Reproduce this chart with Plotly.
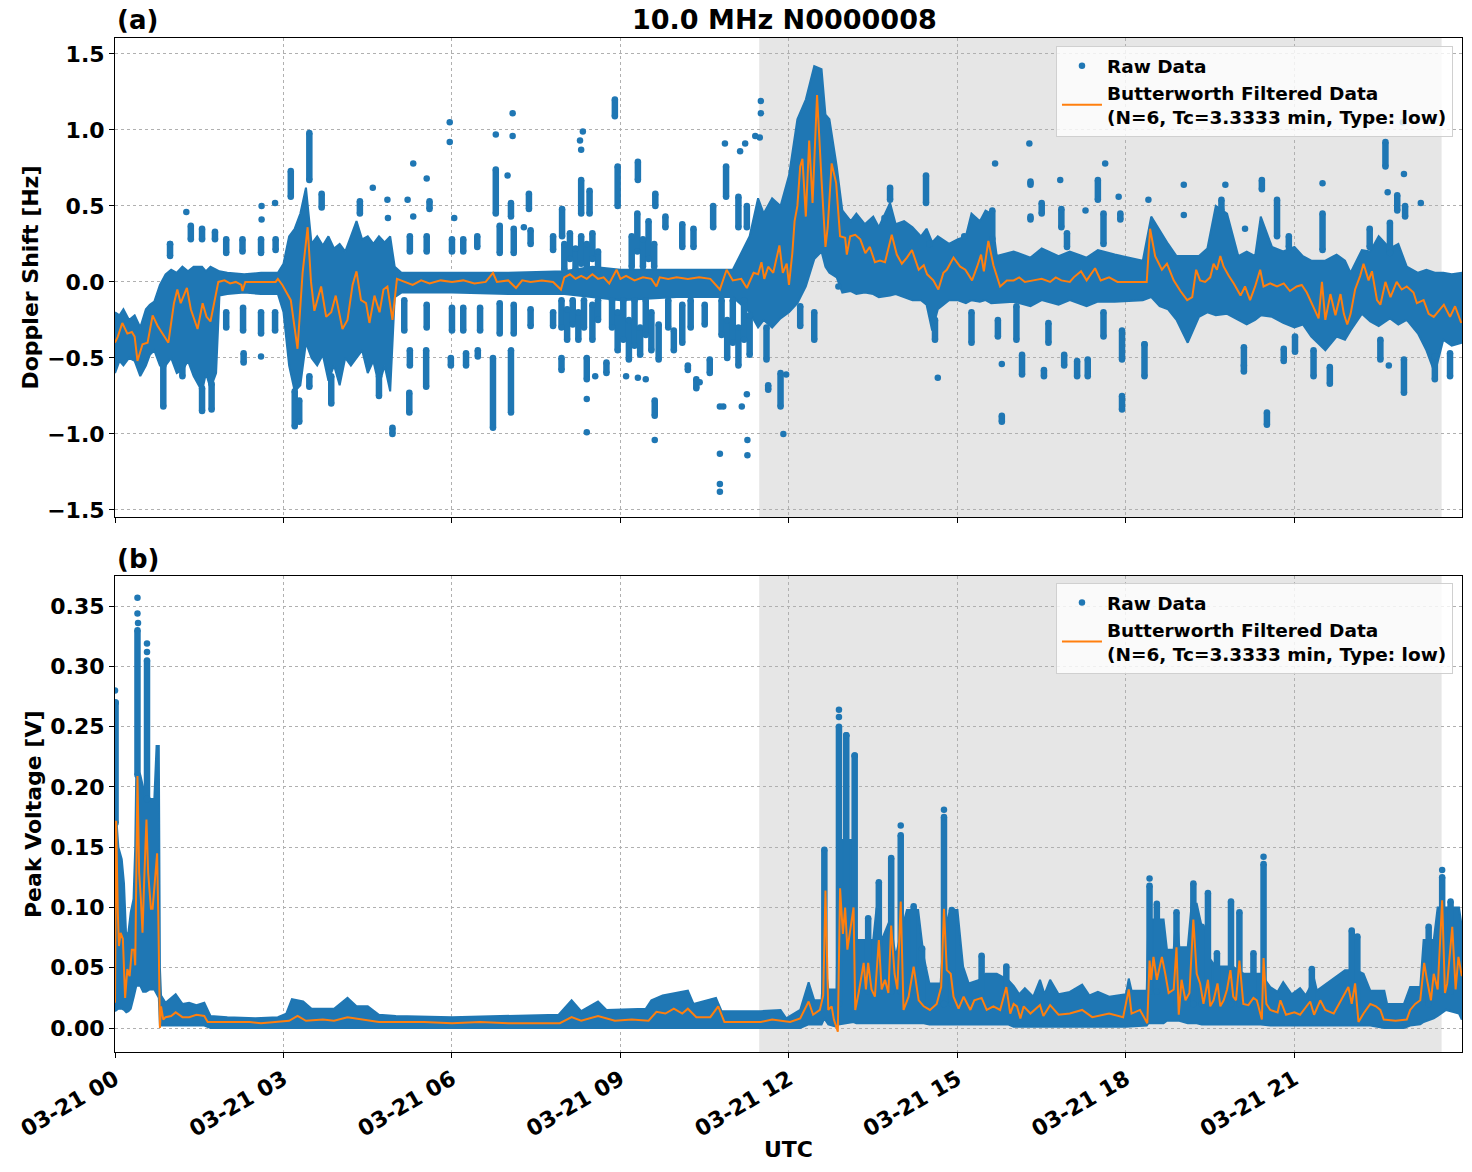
import numpy as np
import pandas as pd
import plotly.graph_objects as go

BASE_DAY = "2024-03-21"
C_RAW = "#1f77b4"
C_FILT = "#ff7f0e"

# ---------------- shaded interval (hours UTC) ----------------
shade_start = 11.47
shade_end = 23.62

# ================= (a) Doppler shift =================
# dense core of the raw points: time [h], lower edge, upper edge [Hz]
top_band_t = [0.00, 0.08, 0.15, 0.25, 0.35, 0.45, 0.55, 0.62, 0.70, 0.80,
              0.90, 1.00, 1.10, 1.20, 1.30, 1.40, 1.55, 1.62, 1.70, 1.80,
              1.86, 2.00, 2.30, 2.60, 2.90, 3.00, 3.10, 3.20, 3.30, 3.40,
              3.50, 3.60, 3.70, 3.80, 3.90, 4.00, 4.10, 4.20, 4.30, 4.40,
              4.50, 4.60, 4.70, 4.80, 4.90, 4.98, 5.10, 6.00, 7.00, 8.00,
              8.50, 9.00, 10.00, 11.00, 11.30, 11.45, 11.55, 11.70, 11.85, 12.00,
              12.15, 12.30, 12.45, 12.58, 12.65, 12.72, 12.85, 12.95, 13.10, 13.20,
              13.35, 13.50, 13.60, 13.80, 13.90, 14.05, 14.20, 14.35, 14.45, 14.55,
              14.65, 14.85, 15.00, 15.15, 15.25, 15.40, 15.50, 15.60, 15.70, 16.00,
              16.30, 16.50, 16.80, 17.00, 17.30, 17.50, 17.80, 18.30, 18.45, 18.60,
              18.75, 18.90, 19.10, 19.30, 19.45, 19.60, 19.80, 20.00, 20.15, 20.30,
              20.40, 20.60, 20.80, 21.00, 21.15, 21.30, 21.55, 21.75, 21.90, 22.00,
              22.20, 22.35, 22.50, 22.70, 22.85, 23.00, 23.20, 23.35, 23.50, 23.65,
              23.80, 23.98]
top_band_lo = [-0.60, -0.52, -0.55, -0.50, -0.52, -0.62, -0.55, -0.48, -0.45, -0.55,
               -0.55, -0.50, -0.60, -0.58, -0.52, -0.62, -0.72, -0.60, -0.70, -0.60,
               -0.09, -0.08, -0.07, -0.08, -0.08, -0.20, -0.55, -0.72, -0.68, -0.40,
               -0.50, -0.55, -0.48, -0.65, -0.55, -0.68, -0.50, -0.55, -0.50, -0.45,
               -0.60, -0.52, -0.68, -0.55, -0.72, -0.10, -0.07, -0.07, -0.08, -0.08,
               -0.10, -0.12, -0.10, -0.10, -0.20, -0.30, -0.25, -0.30, -0.24, -0.20,
               -0.14, -0.03, 0.15, 0.20, 0.10, 0.06, 0.03, -0.07, -0.06, -0.08,
               -0.07, -0.08, -0.10, -0.09, -0.08, -0.10, -0.12, -0.12, -0.15, -0.32,
               -0.18, -0.12, -0.12, -0.14, -0.12, -0.13, -0.12, -0.14, -0.14, -0.13,
               -0.16, -0.12, -0.15, -0.12, -0.16, -0.13, -0.13, -0.12, -0.10, -0.16,
               -0.18, -0.25, -0.40, -0.23, -0.20, -0.22, -0.21, -0.25, -0.28, -0.25,
               -0.22, -0.23, -0.27, -0.30, -0.28, -0.36, -0.45, -0.36, -0.38, -0.32,
               -0.21, -0.26, -0.29, -0.24, -0.28, -0.25, -0.34, -0.45, -0.60, -0.38,
               -0.42, -0.40]
top_band_hi = [-0.20, -0.22, -0.18, -0.25, -0.22, -0.30, -0.18, -0.15, -0.13, -0.02,
               0.05, 0.08, 0.06, 0.10, 0.07, 0.10, 0.10, 0.07, 0.10, 0.08,
               0.07, 0.06, 0.05, 0.06, 0.06, 0.12, 0.30, 0.35, 0.45, 0.62,
               0.25, 0.30, 0.24, 0.30, 0.22, 0.25, 0.20, 0.30, 0.40, 0.28,
               0.30, 0.25, 0.30, 0.26, 0.30, 0.10, 0.06, 0.06, 0.06, 0.07,
               0.10, 0.08, 0.08, 0.08, 0.30, 0.55, 0.45, 0.55, 0.50, 0.70,
               1.07, 1.20, 1.42, 1.40, 1.10, 1.07, 0.76, 0.47, 0.40, 0.45,
               0.38, 0.43, 0.36, 0.52, 0.38, 0.40, 0.36, 0.30, 0.35, 0.26,
               0.30, 0.25, 0.28, 0.30, 0.45, 0.40, 0.47, 0.45, 0.17, 0.20,
               0.16, 0.22, 0.17, 0.20, 0.16, 0.21, 0.18, 0.14, 0.43, 0.34,
               0.25, 0.17, 0.17, 0.17, 0.22, 0.50, 0.45, 0.17, 0.20, 0.17,
               0.43, 0.23, 0.20, 0.23, 0.17, 0.14, 0.14, 0.18, 0.14, 0.06,
               0.21, 0.20, 0.30, 0.22, 0.25, 0.10, 0.06, 0.08, 0.06, 0.06,
               0.05, 0.06]

# stacks of raw points above the core: time [h], lowest, highest [Hz]
top_up_t = [0.98, 1.35, 1.55, 1.78, 1.98, 2.27, 2.60, 2.86, 3.13, 3.46,
            3.68, 4.36, 5.25, 5.60, 5.55, 6.00, 6.20, 6.45, 6.78, 6.85,
            7.05, 7.10, 7.37, 7.40, 7.80, 7.96, 8.00, 8.10, 8.20, 8.30,
            8.40, 8.50, 8.60, 8.30, 8.45, 8.95, 8.90, 9.31, 9.20, 9.30,
            9.40, 9.50, 9.60, 9.62, 9.80, 10.10, 10.30, 10.65, 10.88, 11.10,
            11.25, 13.80, 14.44, 15.62, 16.30, 16.50, 16.85, 16.95, 17.50, 17.60,
            17.90, 19.70, 20.42, 20.69, 20.90, 21.50, 22.34, 22.62, 22.83, 22.97,
            22.70, 16.30]
top_up_lo = [0.17, 0.28, 0.28, 0.28, 0.19, 0.20, 0.19, 0.21, 0.56, 0.67,
             0.49, 0.45, 0.20, 0.48, 0.20, 0.20, 0.20, 0.23, 0.45, 0.19,
             0.43, 0.19, 0.48, 0.25, 0.21, 0.30, 0.08, 0.15, 0.08, 0.12,
             0.08, 0.15, 0.08, 0.45, 0.45, 0.50, 1.09, 0.67, 0.10, 0.20,
             0.10, 0.15, 0.10, 0.50, 0.36, 0.23, 0.23, 0.36, 0.56, 0.36,
             0.36, 0.54, 0.52, 0.28, 0.41, 0.45, 0.36, 0.23, 0.54, 0.25,
             0.41, 0.47, 0.61, 0.30, 0.23, 0.21, 0.23, 0.76, 0.47, 0.43,
             0.19, 0.64]
top_up_hi = [0.25, 0.37, 0.35, 0.33, 0.28, 0.28, 0.28, 0.28, 0.73, 0.98,
             0.58, 0.53, 0.30, 0.53, 0.30, 0.28, 0.28, 0.30, 0.74, 0.37,
             0.52, 0.35, 0.58, 0.34, 0.30, 0.48, 0.25, 0.32, 0.22, 0.30,
             0.25, 0.32, 0.20, 0.67, 0.60, 0.76, 1.20, 0.79, 0.30, 0.45,
             0.28, 0.40, 0.25, 0.58, 0.43, 0.38, 0.35, 0.50, 0.76, 0.56,
             0.50, 0.62, 0.70, 0.47, 0.43, 0.52, 0.48, 0.32, 0.67, 0.45,
             0.45, 0.54, 0.67, 0.54, 0.30, 0.45, 0.35, 0.92, 0.57, 0.50,
             0.39, 0.66]

# stacks of raw points below the core: time [h], lowest, highest [Hz]
top_dn_t = [0.86, 1.20, 1.55, 1.72, 1.98, 2.28, 2.29, 2.60, 2.85, 3.20,
            3.28, 3.46, 3.85, 4.70, 4.94, 5.15, 5.25, 5.24, 5.54, 5.55,
            5.98, 6.00, 6.25, 6.20, 6.46, 6.50, 6.73, 6.85, 7.05, 7.10,
            7.40, 7.80, 7.95, 8.05, 8.15, 8.25, 8.35, 8.50, 8.60, 7.95,
            8.40, 8.75, 8.85, 8.95, 9.05, 9.15, 9.25, 9.35, 9.45, 9.55,
            9.68, 9.61, 9.85, 9.95, 10.10, 10.25, 10.20, 10.35, 10.50, 10.59,
            10.80, 10.90, 11.00, 11.10, 11.20, 11.30, 11.60, 11.63, 11.85, 12.20,
            12.45, 14.60, 15.25, 15.72, 15.79, 16.05, 16.15, 16.54, 16.62, 16.90,
            17.13, 17.32, 17.60, 17.93, 17.93, 18.33, 20.10, 20.51, 20.81, 21.01,
            21.34, 21.63, 22.53, 22.95, 23.50, 23.77]
top_dn_lo = [-0.82, -0.62, -0.85, -0.84, -0.30, -0.32, -0.53, -0.34, -0.32, -0.95,
             -0.92, -0.69, -0.80, -0.75, -1.00, -0.32, -0.55, -0.86, -0.69, -0.30,
             -0.55, -0.32, -0.55, -0.32, -0.49, -0.32, -0.96, -0.34, -0.86, -0.34,
             -0.29, -0.29, -0.30, -0.38, -0.28, -0.38, -0.30, -0.38, -0.25, -0.58,
             -0.64, -0.60, -0.30, -0.45, -0.38, -0.51, -0.42, -0.48, -0.35, -0.45,
             -0.51, -0.88, -0.30, -0.45, -0.40, -0.30, -0.58, -0.70, -0.28, -0.60,
             -0.35, -0.50, -0.40, -0.55, -0.38, -0.48, -0.51, -0.71, -0.82, -0.29,
             -0.38, -0.38, -0.40, -0.36, -0.92, -0.38, -0.61, -0.62, -0.40, -0.55,
             -0.62, -0.62, -0.36, -0.51, -0.84, -0.62, -0.59, -0.94, -0.52, -0.46,
             -0.62, -0.67, -0.51, -0.73, -0.64, -0.62]
top_dn_hi = [-0.55, -0.55, -0.70, -0.67, -0.20, -0.17, -0.47, -0.20, -0.20, -0.72,
             -0.78, -0.62, -0.62, -0.62, -0.96, -0.12, -0.45, -0.73, -0.45, -0.15,
             -0.50, -0.17, -0.47, -0.17, -0.45, -0.17, -0.50, -0.14, -0.45, -0.15,
             -0.18, -0.20, -0.12, -0.18, -0.12, -0.20, -0.12, -0.15, -0.12, -0.50,
             -0.50, -0.53, -0.12, -0.20, -0.12, -0.25, -0.12, -0.30, -0.12, -0.20,
             -0.28, -0.78, -0.12, -0.32, -0.15, -0.12, -0.55, -0.64, -0.15, -0.51,
             -0.12, -0.25, -0.12, -0.30, -0.12, -0.22, -0.30, -0.68, -0.60, -0.16,
             -0.20, -0.25, -0.20, -0.25, -0.88, -0.16, -0.48, -0.58, -0.27, -0.48,
             -0.52, -0.51, -0.20, -0.32, -0.75, -0.41, -0.43, -0.86, -0.44, -0.36,
             -0.45, -0.56, -0.38, -0.51, -0.49, -0.47]

# isolated raw points: time [h], value [Hz]
top_pt_t = [1.27, 0.98, 2.61, 2.61, 2.85, 2.60, 4.59, 4.85, 4.86, 5.21, 5.31, 5.31, 5.55, 5.96, 5.96, 6.04,
            6.78, 6.99, 7.08, 7.08, 7.28, 8.33, 8.28, 8.30, 10.86, 11.13, 11.22, 11.40, 11.50, 11.50, 11.48,
            8.40, 8.40, 8.55, 9.10, 9.31, 9.45, 9.61, 10.41, 10.77, 10.83, 10.77, 10.77, 10.77, 11.16, 11.25,
            11.26, 11.26, 11.90, 11.95, 12.88, 13.70, 14.50, 15.12, 15.67, 15.79, 16.28, 16.83, 17.28, 17.63,
            17.87, 18.40, 19.03, 19.03, 19.77, 20.12, 21.50, 22.66, 22.95, 23.25, 22.93, 20.10, 22.68, 18.33,
            14.65]
top_pt_v = [0.46, 0.25, 0.50, 0.41, 0.52, -0.49, 0.62, 0.54, 0.42, 0.54, 0.78, 0.43, 0.68, 1.05, 0.92, 0.42,
            0.97, 0.70, 1.11, 0.96, 0.36, 0.99, 0.93, 0.87, 0.91, 0.86, 0.91, 0.96, 1.19, 1.11, 0.95,
            -0.77, -0.99, -0.62, -0.62, -0.63, -0.64, -1.04, -0.66, -0.82, -0.82, -1.13, -1.33, -1.38, -0.82,
            -0.74, -1.04, -1.14, -1.00, -0.61, -0.03, 0.42, 0.25, 0.30, 0.78, -0.54, 0.91, 0.67, 0.47, 0.78,
            0.56, 0.54, 0.64, 0.44, 0.64, 0.35, 0.65, 0.59, 0.71, 0.52, 1.05, -0.55, -0.55, -0.41,
            -0.63]

# Butterworth filtered Doppler shift: time [h], value [Hz]
top_f_t = [0.00, 0.05, 0.13, 0.22, 0.30, 0.35, 0.40, 0.49, 0.58, 0.67, 0.76, 0.87, 0.95, 1.05, 1.11, 1.17,
           1.28, 1.35, 1.47, 1.56, 1.63, 1.70, 1.79, 1.84, 1.95, 2.05, 2.15, 2.25, 2.27, 2.32, 2.50, 2.70,
           2.86, 2.90, 2.98, 3.13, 3.25, 3.34, 3.43, 3.49, 3.55, 3.67, 3.76, 3.85, 3.93, 4.05, 4.14, 4.23,
           4.30, 4.38, 4.47, 4.53, 4.62, 4.71, 4.78, 4.85, 4.94, 5.02, 5.15, 5.30, 5.45, 5.60, 5.80, 6.00,
           6.20, 6.40, 6.60, 6.73, 6.80, 7.00, 7.14, 7.25, 7.40, 7.60, 7.80, 7.94, 8.00, 8.10, 8.20, 8.30,
           8.40, 8.50, 8.60, 8.70, 8.80, 8.93, 9.00, 9.10, 9.25, 9.40, 9.55, 9.64, 9.70, 9.85, 10.00, 10.20,
           10.40, 10.60, 10.77, 10.89, 11.00, 11.15, 11.25, 11.37, 11.45, 11.51, 11.56, 11.63, 11.72, 11.83,
           11.89, 11.96, 12.00, 12.06, 12.10, 12.15, 12.20, 12.24, 12.30, 12.36, 12.42, 12.50, 12.58, 12.65,
           12.69, 12.76, 12.84, 12.91, 13.00, 13.03, 13.09, 13.18, 13.27, 13.36, 13.44, 13.53, 13.62, 13.71,
           13.83, 13.92, 14.01, 14.10, 14.19, 14.31, 14.40, 14.46, 14.57, 14.66, 14.75, 14.81, 14.93, 15.05,
           15.14, 15.26, 15.35, 15.42, 15.47, 15.55, 15.64, 15.76, 15.88, 16.00, 16.10, 16.20, 16.35, 16.50,
           16.65, 16.75, 16.85, 17.00, 17.07, 17.20, 17.30, 17.45, 17.55, 17.70, 17.85, 18.00, 18.20, 18.37,
           18.43, 18.52, 18.64, 18.73, 18.85, 18.97, 19.09, 19.18, 19.25, 19.32, 19.41, 19.50, 19.56, 19.62,
           19.68, 19.74, 19.83, 19.92, 20.04, 20.12, 20.21, 20.30, 20.39, 20.45, 20.57, 20.69, 20.81, 20.92,
           21.04, 21.13, 21.22, 21.34, 21.43, 21.49, 21.55, 21.64, 21.73, 21.82, 21.88, 21.94, 22.00, 22.08,
           22.17, 22.23, 22.32, 22.38, 22.47, 22.53, 22.62, 22.71, 22.82, 22.91, 23.00, 23.12, 23.18, 23.30,
           23.39, 23.48, 23.60, 23.66, 23.77, 23.86, 23.97]
top_f_v = [-0.40, -0.36, -0.27, -0.34, -0.33, -0.36, -0.52, -0.41, -0.40, -0.22, -0.29, -0.35, -0.40, -0.14,
           -0.05, -0.14, -0.04, -0.18, -0.31, -0.14, -0.23, -0.26, -0.09, 0.00, 0.01, -0.01, 0.00, -0.02,
           -0.06, 0.00, 0.00, 0.00, 0.00, 0.02, -0.02, -0.12, -0.44, 0.06, 0.36, 0.00, -0.19, -0.03, -0.23,
           -0.20, -0.09, -0.31, -0.25, -0.02, 0.07, -0.12, -0.14, -0.27, -0.09, -0.20, -0.05, -0.03, -0.25,
           0.02, 0.00, -0.02, 0.01, -0.01, 0.01, 0.00, 0.01, -0.01, 0.00, 0.06, 0.00, 0.01, -0.04, 0.01,
           0.00, 0.01, 0.00, -0.05, 0.03, 0.05, 0.02, 0.04, 0.02, 0.05, 0.02, 0.03, -0.01, 0.08, 0.02, 0.04,
           0.01, 0.03, 0.02, -0.03, 0.03, 0.02, 0.03, 0.02, 0.03, 0.02, -0.05, 0.08, 0.01, 0.02, -0.04, 0.06,
           0.05, 0.13, 0.02, 0.10, 0.06, 0.24, 0.06, 0.12, -0.02, 0.19, 0.40, 0.50, 0.76, 0.81, 0.43, 0.93,
           0.52, 1.23, 0.67, 0.23, 0.36, 0.78, 0.65, 0.30, 0.29, 0.18, 0.30, 0.31, 0.28, 0.19, 0.23, 0.13,
           0.14, 0.13, 0.31, 0.18, 0.12, 0.16, 0.21, 0.08, 0.11, 0.05, 0.01, -0.05, 0.06, 0.08, 0.16, 0.10,
           0.08, 0.01, 0.10, 0.18, 0.07, 0.27, 0.11, -0.03, 0.01, 0.01, 0.03, 0.00, 0.01, 0.02, 0.00, 0.03,
           0.01, 0.00, 0.03, 0.07, 0.01, 0.09, 0.01, 0.03, 0.00, 0.00, 0.00, 0.00, 0.35, 0.17, 0.08, 0.12,
           0.01, -0.06, -0.12, -0.10, 0.08, 0.01, 0.00, 0.03, 0.12, 0.08, 0.17, 0.10, 0.04, -0.01, -0.09,
           -0.03, -0.12, -0.03, 0.08, -0.03, -0.01, -0.03, -0.01, -0.06, -0.03, -0.02, -0.07, -0.17, -0.24,
           0.00, -0.25, -0.08, -0.22, -0.08, -0.21, -0.28, -0.21, -0.05, 0.04, 0.12, 0.01, 0.07, -0.12,
           -0.15, 0.00, -0.10, 0.00, -0.05, -0.03, -0.07, -0.14, -0.12, -0.21, -0.23, -0.18, -0.15, -0.23,
           -0.16, -0.27]

# ================= (b) Peak voltage =================
bot_band_t = [0.00, 0.03, 0.06, 0.12, 0.16, 0.20, 0.24, 0.28, 0.33, 0.36,
              0.38, 0.45, 0.50, 0.55, 0.62, 0.70, 0.74, 0.78, 0.80, 0.82,
              0.90, 1.08, 1.20, 1.32, 1.45, 1.59, 1.70, 2.00, 2.50, 2.90,
              3.05, 3.15, 3.35, 3.50, 3.90, 4.14, 4.30, 4.50, 4.70, 5.00,
              6.00, 7.00, 7.90, 8.13, 8.30, 8.60, 8.75, 9.45, 9.55, 9.75,
              10.20, 10.30, 10.70, 10.80, 11.50, 11.85, 11.95, 12.20, 12.35, 12.45,
              12.58, 12.63, 12.70, 12.85, 12.88, 13.15, 13.20, 13.50, 13.56, 13.65,
              13.80, 13.90, 14.00, 14.10, 14.30, 14.40, 14.50, 14.70, 14.76, 14.87,
              15.00, 15.10, 15.20, 15.40, 15.50, 15.70, 15.90, 16.00, 16.10, 16.20,
              16.35, 16.47, 16.55, 16.65, 16.80, 17.00, 17.22, 17.35, 17.50, 17.70,
              18.00, 18.05, 18.10, 18.37, 18.40, 18.67, 18.73, 18.85, 18.90, 18.95,
              19.10, 19.17, 19.26, 19.35, 19.45, 19.60, 19.90, 20.10, 20.40, 20.57,
              20.70, 20.80, 20.95, 21.10, 21.20, 21.28, 21.31, 21.40, 21.90, 22.10,
              22.23, 22.35, 22.60, 22.65, 22.95, 23.06, 23.24, 23.30, 23.48, 23.55,
              23.70, 23.93, 23.98]
bot_band_lo = [0.014, 0.015, 0.016, 0.016, 0.015, 0.013, 0.014, 0.016, 0.025, 0.030,
               0.035, 0.035, 0.030, 0.030, 0.032, 0.032, 0.028, 0.025, 0.002, 0.002,
               0.002, 0.002, 0.002, 0.002, 0.002, 0.002, 0.000, 0.000, 0.000, 0.000,
               0.000, 0.000, 0.000, 0.000, 0.000, 0.000, 0.000, 0.000, 0.000, 0.000,
               0.000, 0.000, 0.000, 0.000, 0.000, 0.000, 0.000, 0.000, 0.000, 0.000,
               0.000, 0.000, 0.000, 0.000, 0.000, 0.000, 0.000, 0.000, 0.003, 0.003,
               0.003, 0.008, 0.003, 0.001, 0.003, 0.005, 0.004, 0.004, 0.004, 0.004,
               0.004, 0.004, 0.004, 0.004, 0.004, 0.004, 0.003, 0.003, 0.003, 0.003,
               0.003, 0.003, 0.003, 0.003, 0.003, 0.003, 0.003, 0.001, 0.001, 0.001,
               0.001, 0.001, 0.001, 0.001, 0.001, 0.001, 0.001, 0.001, 0.001, 0.001,
               0.001, 0.001, 0.001, 0.002, 0.004, 0.004, 0.006, 0.006, 0.006, 0.006,
               0.004, 0.004, 0.004, 0.003, 0.003, 0.003, 0.003, 0.003, 0.003, 0.002,
               0.002, 0.002, 0.002, 0.002, 0.002, 0.002, 0.002, 0.002, 0.002, 0.002,
               0.002, 0.002, 0.000, 0.000, 0.000, 0.002, 0.003, 0.005, 0.008, 0.010,
               0.015, 0.012, 0.007]
bot_band_hi = [0.206, 0.170, 0.150, 0.140, 0.120, 0.075, 0.080, 0.096, 0.107, 0.150,
               0.217, 0.210, 0.200, 0.200, 0.190, 0.190, 0.234, 0.234, 0.050, 0.027,
               0.021, 0.028, 0.020, 0.021, 0.019, 0.021, 0.010, 0.009, 0.008, 0.009,
               0.012, 0.024, 0.022, 0.016, 0.016, 0.025, 0.018, 0.018, 0.011, 0.010,
               0.009, 0.010, 0.011, 0.023, 0.014, 0.022, 0.015, 0.016, 0.023, 0.027,
               0.031, 0.020, 0.025, 0.014, 0.014, 0.015, 0.008, 0.015, 0.038, 0.023,
               0.023, 0.060, 0.032, 0.032, 0.156, 0.156, 0.073, 0.073, 0.100, 0.073,
               0.090, 0.059, 0.080, 0.098, 0.098, 0.059, 0.037, 0.037, 0.080, 0.098,
               0.098, 0.051, 0.037, 0.040, 0.045, 0.045, 0.040, 0.035, 0.028, 0.033,
               0.026, 0.040, 0.028, 0.040, 0.028, 0.030, 0.036, 0.027, 0.030, 0.026,
               0.028, 0.041, 0.031, 0.031, 0.090, 0.090, 0.065, 0.065, 0.096, 0.067,
               0.067, 0.103, 0.103, 0.084, 0.060, 0.051, 0.051, 0.045, 0.045, 0.034,
               0.030, 0.038, 0.028, 0.033, 0.027, 0.034, 0.049, 0.031, 0.048, 0.048,
               0.045, 0.031, 0.031, 0.020, 0.020, 0.034, 0.034, 0.073, 0.073, 0.100,
               0.100, 0.100, 0.084]

bot_cl_t = [0.01, 0.40, 0.57, 12.63, 12.89, 13.02, 13.17, 13.41, 13.60, 13.82,
            13.99, 14.22, 14.37, 14.76, 14.90, 15.43, 15.87, 18.42, 18.55, 18.90,
            19.20, 19.35, 19.46, 19.62, 19.87, 20.02, 20.27, 20.45, 21.31, 22.02,
            22.12, 23.39, 23.63, 23.78]
bot_cl_lo = [0.17, 0.21, 0.19, 0.03, 0.02, 0.10, 0.03, 0.03, 0.03, 0.03,
             0.03, 0.03, 0.02, 0.02, 0.02, 0.02, 0.02, 0.03, 0.03, 0.02,
             0.02, 0.02, 0.02, 0.02, 0.02, 0.02, 0.02, 0.02, 0.02, 0.02,
             0.02, 0.02, 0.03, 0.03]
bot_cl_hi = [0.270, 0.330, 0.305, 0.148, 0.250, 0.243, 0.226, 0.091, 0.121, 0.141,
             0.160, 0.101, 0.066, 0.175, 0.098, 0.060, 0.051, 0.118, 0.103, 0.096,
             0.120, 0.084, 0.112, 0.062, 0.105, 0.096, 0.062, 0.136, 0.049, 0.081,
             0.076, 0.084, 0.125, 0.105]

bot_pt_t = [0.40, 0.40, 0.41, 0.57, 0.57, 0.00, 0.01, 12.89, 12.89, 13.02, 13.17, 14.76, 13.99, 20.45,
            23.63, 18.42]
bot_pt_v = [0.357, 0.344, 0.336, 0.319, 0.312, 0.280, 0.270, 0.264, 0.258, 0.243, 0.226, 0.181, 0.168,
            0.142, 0.131, 0.124]

bot_f_t = [0.00, 0.02, 0.05, 0.07, 0.10, 0.14, 0.18, 0.22, 0.26, 0.30, 0.34, 0.36, 0.40, 0.43, 0.46, 0.49,
           0.52, 0.56, 0.59, 0.64, 0.67, 0.71, 0.75, 0.77, 0.80, 0.82, 0.86, 0.90, 1.00, 1.08, 1.20, 1.32,
           1.45, 1.59, 1.65, 2.00, 2.40, 2.60, 2.90, 3.10, 3.25, 3.40, 3.70, 3.90, 4.14, 4.40, 4.70, 5.00,
           5.50, 6.00, 6.50, 7.00, 7.50, 7.92, 8.13, 8.30, 8.60, 8.90, 9.20, 9.50, 9.64, 9.80, 9.95, 10.10,
           10.20, 10.35, 10.60, 10.74, 10.85, 11.20, 11.50, 11.70, 12.02, 12.20, 12.35, 12.43, 12.55, 12.61,
           12.65, 12.70, 12.76, 12.80, 12.87, 12.91, 12.96, 13.00, 13.04, 13.09, 13.15, 13.18, 13.24, 13.33,
           13.37, 13.41, 13.47, 13.53, 13.60, 13.65, 13.71, 13.77, 13.82, 13.88, 13.93, 13.99, 14.04, 14.13,
           14.22, 14.31, 14.40, 14.51, 14.63, 14.71, 14.76, 14.81, 14.88, 14.93, 15.02, 15.11, 15.23, 15.30,
           15.43, 15.52, 15.64, 15.76, 15.87, 15.94, 16.00, 16.06, 16.12, 16.18, 16.30, 16.47, 16.53, 16.65,
           16.80, 17.00, 17.22, 17.40, 17.70, 17.95, 18.05, 18.10, 18.25, 18.38, 18.42, 18.45, 18.49, 18.55,
           18.64, 18.70, 18.76, 18.85, 18.90, 18.94, 18.99, 19.06, 19.13, 19.20, 19.26, 19.32, 19.38, 19.46,
           19.50, 19.56, 19.63, 19.68, 19.74, 19.80, 19.86, 19.91, 19.96, 20.02, 20.09, 20.18, 20.27, 20.33,
           20.42, 20.45, 20.50, 20.57, 20.70, 20.75, 20.85, 21.00, 21.10, 21.28, 21.35, 21.46, 21.55, 21.70,
           21.90, 21.96, 22.02, 22.08, 22.14, 22.23, 22.35, 22.45, 22.53, 22.59, 22.80, 23.00, 23.06, 23.15,
           23.24, 23.31, 23.36, 23.43, 23.48, 23.55, 23.63, 23.68, 23.72, 23.81, 23.87, 23.92, 23.98]
bot_f_v = [0.021, 0.172, 0.096, 0.068, 0.079, 0.074, 0.025, 0.049, 0.043, 0.065, 0.065, 0.052, 0.209, 0.129,
           0.107, 0.079, 0.123, 0.173, 0.129, 0.099, 0.099, 0.123, 0.145, 0.096, 0.000, 0.018, 0.007, 0.009,
           0.010, 0.013, 0.009, 0.009, 0.011, 0.010, 0.005, 0.005, 0.005, 0.004, 0.005, 0.006, 0.010, 0.006,
           0.007, 0.006, 0.009, 0.007, 0.005, 0.005, 0.005, 0.004, 0.005, 0.004, 0.004, 0.004, 0.009, 0.006,
           0.010, 0.006, 0.007, 0.006, 0.0135, 0.012, 0.016, 0.012, 0.016, 0.009, 0.009, 0.018, 0.005, 0.005,
           0.005, 0.007, 0.005, 0.008, 0.022, 0.011, 0.015, 0.027, 0.114, 0.015, 0.018, 0.007, -0.003, 0.116,
           0.078, 0.100, 0.065, 0.081, 0.100, 0.015, 0.029, 0.054, 0.032, 0.054, 0.032, 0.026, 0.073, 0.032,
           0.040, 0.029, 0.085, 0.045, 0.032, 0.105, 0.015, 0.026, 0.051, 0.023, 0.018, 0.015, 0.020, 0.034,
           0.099, 0.048, 0.045, 0.026, 0.016, 0.026, 0.015, 0.023, 0.025, 0.015, 0.018, 0.015, 0.034, 0.012,
           0.020, 0.018, 0.008, 0.018, 0.012, 0.019, 0.010, 0.019, 0.011, 0.012, 0.015, 0.009, 0.012, 0.009,
           0.032, 0.012, 0.015, 0.004, 0.056, 0.040, 0.059, 0.040, 0.059, 0.045, 0.029, 0.032, 0.067, 0.011,
           0.040, 0.023, 0.029, 0.090, 0.045, 0.037, 0.020, 0.040, 0.018, 0.023, 0.037, 0.018, 0.023, 0.032,
           0.048, 0.026, 0.023, 0.056, 0.020, 0.019, 0.025, 0.023, 0.007, 0.058, 0.020, 0.015, 0.013, 0.023,
           0.011, 0.013, 0.011, 0.022, 0.011, 0.023, 0.015, 0.012, 0.029, 0.034, 0.020, 0.037, 0.005, 0.012,
           0.020, 0.018, 0.015, 0.007, 0.006, 0.007, 0.015, 0.020, 0.023, 0.054, 0.040, 0.023, 0.045, 0.032,
           0.106, 0.029, 0.037, 0.084, 0.032, 0.059, 0.043]

# ---------------- consistency checks ----------------
for grp in [(top_band_t, top_band_lo, top_band_hi), (top_up_t, top_up_lo, top_up_hi),
            (top_dn_t, top_dn_lo, top_dn_hi), (top_pt_t, top_pt_v), (top_f_t, top_f_v),
            (bot_band_t, bot_band_lo, bot_band_hi), (bot_cl_t, bot_cl_lo, bot_cl_hi),
            (bot_pt_t, bot_pt_v), (bot_f_t, bot_f_v)]:
    assert len(set(len(g) for g in grp)) == 1, [len(g) for g in grp]

# ---------------- helpers ----------------
BASE = pd.Timestamp(BASE_DAY)


def to_dt(hours):
    return [(BASE + pd.Timedelta(hours=float(h))).strftime("%Y-%m-%d %H:%M:%S") for h in hours]


def band_poly(t, lo, hi):
    x = to_dt(t) + to_dt(t[::-1])
    y = list(hi) + list(lo[::-1])
    return x, y


def stacks(t, lo, hi):
    xs, ys = [], []
    for a, b, c in zip(t, lo, hi):
        d = to_dt([a])[0]
        xs += [d, d, None]
        ys += [b, c, None]
    return xs, ys


fig = go.Figure()


def add_panel(xa, ya, leg, band, cl, pts, filt):
    bx, by = band_poly(*band)
    fig.add_trace(go.Scatter(x=bx, y=by, mode="lines", fill="toself", fillcolor=C_RAW,
                             line=dict(color=C_RAW, width=2), hoverinfo="skip", showlegend=False,
                             xaxis=xa, yaxis=ya))
    sx, sy = stacks(*cl)
    fig.add_trace(go.Scatter(x=sx, y=sy, mode="lines+markers", line=dict(color=C_RAW, width=6.5),
                             marker=dict(color=C_RAW, size=6.5), hoverinfo="skip", showlegend=False,
                             xaxis=xa, yaxis=ya))
    fig.add_trace(go.Scatter(x=to_dt(pts[0]), y=pts[1], mode="markers", name="Raw Data",
                             marker=dict(color=C_RAW, size=6.5), legend=leg, xaxis=xa, yaxis=ya))
    fig.add_trace(go.Scatter(x=to_dt(filt[0]), y=filt[1], mode="lines",
                             name="Butterworth Filtered Data<br>(N=6, Tc=3.3333 min, Type: low)",
                             line=dict(color=C_FILT, width=2), legend=leg, xaxis=xa, yaxis=ya))


add_panel("x", "y", "legend", (top_band_t, top_band_lo, top_band_hi),
          (top_up_t + top_dn_t, top_up_lo + top_dn_lo, top_up_hi + top_dn_hi),
          (top_pt_t, top_pt_v), (top_f_t, top_f_v))
add_panel("x2", "y2", "legend2", (bot_band_t, bot_band_lo, bot_band_hi),
          (bot_cl_t, bot_cl_lo, bot_cl_hi), (bot_pt_t, bot_pt_v), (bot_f_t, bot_f_v))

x_range = [BASE_DAY + " 00:00:00", BASE_DAY + " 23:59:00"]
grid = dict(showgrid=True, gridcolor="#b0b0b0", griddash="dot", gridwidth=1, zeroline=False,
            showline=True, linecolor="black", linewidth=1, mirror=True, ticks="outside",
            ticklen=5, tickwidth=1, tickcolor="black", tickfont=dict(size=22, weight="bold"))
xcommon = dict(type="date", range=x_range, tick0=x_range[0], dtick=3 * 3600 * 1000,
               tickformat="%m-%d %H", **grid)

top_ticks = [-1.5, -1.0, -0.5, 0.0, 0.5, 1.0, 1.5]
top_labels = [("\u2212" if v < 0 else "") + f"{abs(v):.1f}" for v in top_ticks]
bot_ticks = [0.0, 0.05, 0.10, 0.15, 0.20, 0.25, 0.30, 0.35]
bot_labels = [f"{v:.2f}" for v in bot_ticks]

TOP_DOM = [0.5276, 1.0]
BOT_DOM = [0.0, 0.4694]

legend_style = dict(xanchor="right", yanchor="top", bgcolor="rgba(255,255,255,0.8)",
                    bordercolor="#d0d0d0", borderwidth=1, font=dict(size=18.5, weight="bold"),
                    itemwidth=40, tracegroupgap=4)

fig.update_layout(
    width=1472, height=1172,
    margin=dict(l=115, r=10, t=38, b=120),
    paper_bgcolor="white", plot_bgcolor="white",
    font=dict(family="DejaVu Sans", size=21, color="black", weight="bold"),
    xaxis=dict(domain=[0, 1], anchor="y", showticklabels=False, **xcommon),
    xaxis2=dict(domain=[0, 1], anchor="y2", tickangle=-30, **xcommon),
    yaxis=dict(domain=TOP_DOM, anchor="x", range=[-1.547, 1.605], tickvals=top_ticks,
               ticktext=top_labels, **grid),
    yaxis2=dict(domain=BOT_DOM, anchor="x2", range=[-0.0199, 0.375], tickvals=bot_ticks,
                ticktext=bot_labels, **grid),
    legend=dict(x=0.9933, y=0.992, **legend_style),
    legend2=dict(x=0.9933, y=0.4626, **legend_style),
    shapes=[
        dict(type="rect", xref="x", yref="y domain", x0=to_dt([shade_start])[0], x1=to_dt([shade_end])[0],
             y0=0, y1=1, fillcolor="rgba(128,128,128,0.2)", line=dict(width=0), layer="below"),
        dict(type="rect", xref="x2", yref="y2 domain", x0=to_dt([shade_start])[0], x1=to_dt([shade_end])[0],
             y0=0, y1=1, fillcolor="rgba(128,128,128,0.2)", line=dict(width=0), layer="below"),
    ],
    annotations=[
        dict(text="10.0 MHz N0000008", xref="paper", yref="paper", x=0.497, y=1.0178, xanchor="center",
             yanchor="middle", showarrow=False, font=dict(size=27, weight="bold")),
        dict(text="(a)", xref="paper", yref="paper", x=0.0, y=1.0178, xanchor="left", yanchor="middle",
             showarrow=False, font=dict(size=26, weight="bold")),
        dict(text="(b)", xref="paper", yref="paper", x=0.0, y=0.4862, xanchor="left", yanchor="middle",
             showarrow=False, font=dict(size=26, weight="bold")),
        dict(text="Doppler Shift [Hz]", xref="paper", yref="paper", x=0.0, xshift=-84,
             y=(TOP_DOM[0] + TOP_DOM[1]) / 2, xanchor="center", yanchor="middle", textangle=-90,
             showarrow=False, font=dict(size=22, weight="bold")),
        dict(text="Peak Voltage [V]", xref="paper", yref="paper", x=0.0, xshift=-82,
             y=(BOT_DOM[0] + BOT_DOM[1]) / 2, xanchor="center", yanchor="middle", textangle=-90,
             showarrow=False, font=dict(size=22, weight="bold")),
        dict(text="UTC", xref="paper", yref="paper", x=0.5, y=-0.0966, xanchor="center", yanchor="middle",
             showarrow=False, font=dict(size=22, weight="bold")),
    ],
)

fig.write_html("out.html")
